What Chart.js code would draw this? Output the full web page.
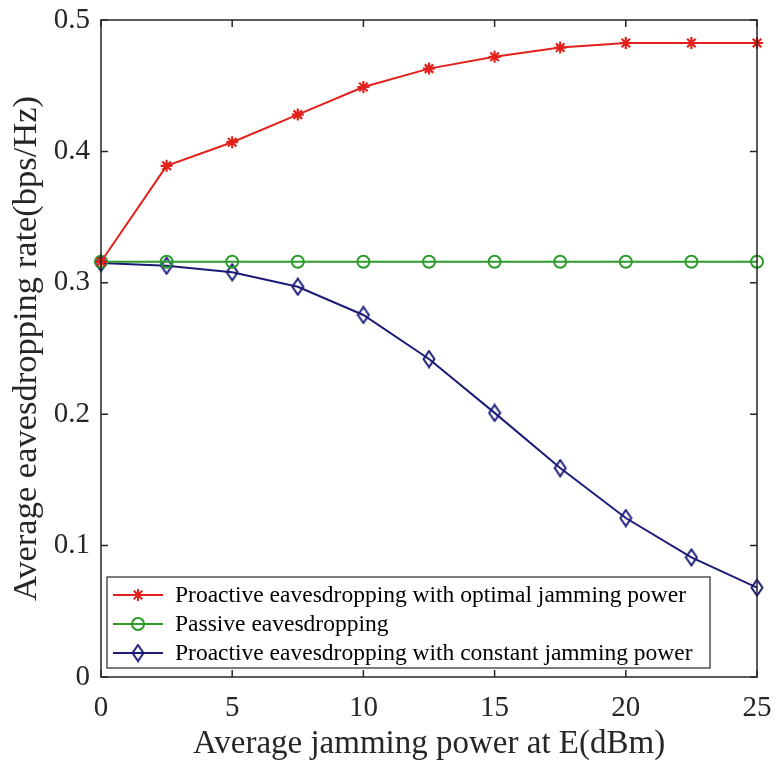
<!DOCTYPE html>
<html>
<head>
<meta charset="utf-8">
<script src="https://cdn.jsdelivr.net/npm/chart.js@4"></script>
<style>
  body { margin: 0; background: #fff; }
  #wrap { width: 775px; height: 768px; }
</style>
</head>
<body>
<div id="wrap"><canvas id="rateChart" width="775" height="768"></canvas></div>
<script>
const jammingPower = [0, 2.5, 5, 7.5, 10, 12.5, 15, 17.5, 20, 22.5, 25];
const optimalRate = [0.316, 0.389, 0.407, 0.428, 0.449, 0.463, 0.472, 0.479, 0.4825, 0.4825, 0.4825];
const passiveRate = [0.316, 0.316, 0.316, 0.316, 0.316, 0.316, 0.316, 0.316, 0.316, 0.316, 0.316];
const constantRate = [0.315, 0.313, 0.308, 0.297, 0.2755, 0.242, 0.201, 0.159, 0.121, 0.091, 0.068];
const seriesNames = [
    'Proactive eavesdropping with optimal jamming power',
    'Passive eavesdropping',
    'Proactive eavesdropping with constant jamming power'
];

const colors = {
    red: '#e3211c',
    green: '#2b9a2b',
    navy: '#1c1c78'
};

const serif = '"Liberation Serif", "DejaVu Serif", serif';

// MATLAB-style diamond, taller than wide
function makeDiamond(color) {
    const c = document.createElement('canvas');
    c.width = 14; c.height = 19;
    const g = c.getContext('2d');
    g.strokeStyle = color;
    g.lineWidth = 2;
    g.beginPath();
    g.moveTo(7, 1.5); g.lineTo(12.5, 9.5); g.lineTo(7, 17.5); g.lineTo(1.5, 9.5);
    g.closePath();
    g.stroke();
    return c;
}
const diamond = makeDiamond(colors.navy);

function toPoints(ys) {
    return jammingPower.map((x, i) => ({ x: x, y: ys[i] }));
}

const boxPlugin = {
    id: 'matlabBox',
    afterDatasetsDraw(chart) {
        const { ctx, chartArea: a, scales } = chart;
        ctx.save();
        ctx.strokeStyle = '#262626';
        ctx.lineWidth = 1.5;
        ctx.strokeRect(a.left, a.top, a.right - a.left, a.bottom - a.top);
        ctx.beginPath();
        scales.x.ticks.forEach(t => {
            const px = scales.x.getPixelForValue(t.value);
            ctx.moveTo(px, a.bottom); ctx.lineTo(px, a.bottom - 7);
            ctx.moveTo(px, a.top); ctx.lineTo(px, a.top + 7);
        });
        scales.y.ticks.forEach(t => {
            const py = scales.y.getPixelForValue(t.value);
            ctx.moveTo(a.left, py); ctx.lineTo(a.left + 7, py);
            ctx.moveTo(a.right, py); ctx.lineTo(a.right - 7, py);
        });
        ctx.stroke();

        // legend box inside plot area, bottom-left
        const lx = a.left + 6, ly = a.bottom - 100, lw = 603, lh = 91;
        ctx.fillStyle = '#fff';
        ctx.fillRect(lx, ly, lw, lh);
        ctx.strokeStyle = '#262626';
        ctx.lineWidth = 1.2;
        ctx.strokeRect(lx, ly, lw, lh);
        ctx.font = '23.5px ' + serif;
        ctx.textBaseline = 'middle';
        chart.data.datasets.forEach((ds, i) => {
            const ry = ly + 18 + i * 29;
            ctx.strokeStyle = ds.borderColor;
            ctx.lineWidth = 2;
            ctx.beginPath();
            ctx.moveTo(lx + 6, ry); ctx.lineTo(lx + 56, ry);
            ctx.stroke();
            ctx.fillStyle = ds.backgroundColor;
            Chart.helpers.drawPoint(ctx, {
                pointStyle: ds.pointStyle,
                radius: ds.pointRadius,
                borderWidth: ds.pointBorderWidth
            }, lx + 31, ry);
            ctx.fillStyle = '#000';
            ctx.fillText(ds.label, lx + 68, ry + 1);
        });
        ctx.restore();
    }
};

const ctx = document.getElementById('rateChart').getContext('2d');
new Chart(ctx, {
    type: 'line',
    data: {
        datasets: [
            {
                label: seriesNames[0],
                data: toPoints(optimalRate),
                borderColor: colors.red,
                backgroundColor: colors.red,
                borderWidth: 2,
                pointStyle: 'star',
                pointRadius: 6,
                pointBorderWidth: 2.2,
                clip: false
            },
            {
                label: seriesNames[1],
                data: toPoints(passiveRate),
                borderColor: colors.green,
                backgroundColor: 'rgba(0,0,0,0)',
                borderWidth: 2,
                pointStyle: 'circle',
                pointRadius: 6,
                pointBorderWidth: 2,
                clip: false
            },
            {
                label: seriesNames[2],
                data: toPoints(constantRate),
                borderColor: colors.navy,
                backgroundColor: 'rgba(0,0,0,0)',
                borderWidth: 2,
                pointStyle: diamond,
                pointRadius: 7,
                pointBorderWidth: 2,
                clip: false
            }
        ]
    },
    options: {
        responsive: false,
        animation: false,
        layout: { padding: { left: 0, top: 20, right: 18, bottom: 0 } },
        plugins: {
            legend: { display: false },
            tooltip: { enabled: false }
        },
        scales: {
            x: {
                type: 'linear',
                min: 0,
                max: 25,
                grid: { display: false, drawTicks: false },
                border: { display: false },
                ticks: { stepSize: 5, padding: 14, color: '#262626', font: { family: serif, size: 29 } },
                title: {
                    display: true,
                    text: 'Average jamming power at E(dBm)',
                    color: '#262626',
                    font: { family: serif, size: 33 },
                    padding: { top: 0, bottom: 4 }
                },
                afterFit(scale) {
                    scale.height = 91;
                    scale.paddingLeft = 0;
                    scale.paddingRight = 0;
                }
            },
            y: {
                min: 0,
                max: 0.5,
                grid: { display: false, drawTicks: false },
                border: { display: false },
                ticks: { stepSize: 0.1, padding: 11, color: '#262626', font: { family: serif, size: 29 } },
                title: {
                    display: true,
                    text: 'Average eavesdropping rate(bps/Hz)',
                    color: '#262626',
                    font: { family: serif, size: 34.5 },
                    padding: { top: 6, bottom: 0 }
                },
                afterFit(scale) {
                    scale.width = 101;
                    scale.paddingTop = 0;
                    scale.paddingBottom = 0;
                }
            }
        }
    },
    plugins: [boxPlugin]
});
</script>
</body>
</html>
